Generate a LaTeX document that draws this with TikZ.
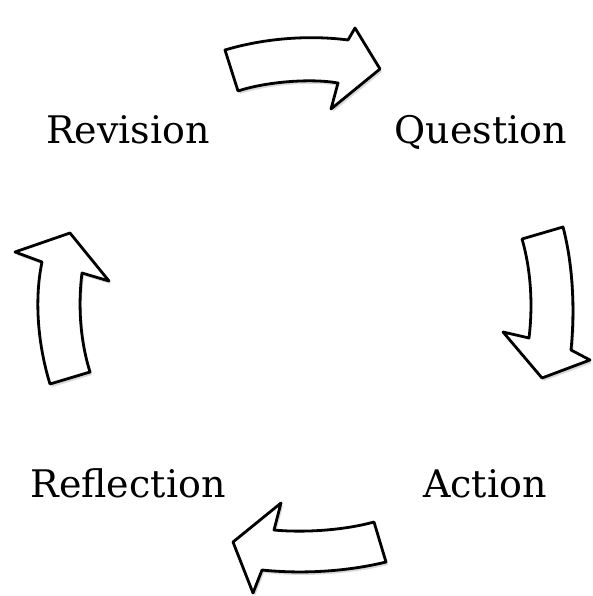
\documentclass[tikz,border=0pt]{standalone}
\usepackage{fontspec}
\setmainfont{DejaVu Serif}
\usetikzlibrary{shadows}

\begin{document}
\begin{tikzpicture}[x=1pt,y=-1pt,
 lbl/.style={anchor=base,inner sep=0pt,font=\fontsize{38}{40}\selectfont},
 blk/.style={draw=black,fill=white,line width=2.8pt,line join=round,
  drop shadow={shadow xshift=2pt,shadow yshift=-3pt,opacity=.3}}]
\useasboundingbox (0,0) rectangle (592,596);
% the four stages
\node[lbl] (rev) at (128,143) {Revision};
\node[lbl] (que) at (481,143) {Question};
\node[lbl] (ref) at (128,497) {Reflection};
\node[lbl] (act) at (485,497) {Action};
% curved block arrows between them
\draw[blk] (225,50) .. controls (265,38) and (310,35) .. (348,40) -- (355,28) -- (380,69)
 -- (331,109) -- (338,83) .. controls (310,78) and (265,82) .. (238,91) -- cycle;
\draw[blk] (522,239) -- (563,227) .. controls (573,265) and (575,310) .. (571,350) -- (590,360)
 -- (542,378) -- (503,332) -- (529,338) .. controls (533,305) and (531,270) .. (522,239) -- cycle;
\draw[blk] (374,522) -- (386,562) .. controls (345,572) and (300,574) .. (262,570) -- (253,593)
 -- (233,542) -- (281,503) -- (274,530) .. controls (305,533) and (345,530) .. (374,522) -- cycle;
\draw[blk] (50,384) -- (90,372) .. controls (80,340) and (78,305) .. (82,273) -- (109,281)
 -- (70,233) -- (15,252) -- (42,262) .. controls (34,300) and (38,345) .. (50,384) -- cycle;
\end{tikzpicture}
\end{document}
